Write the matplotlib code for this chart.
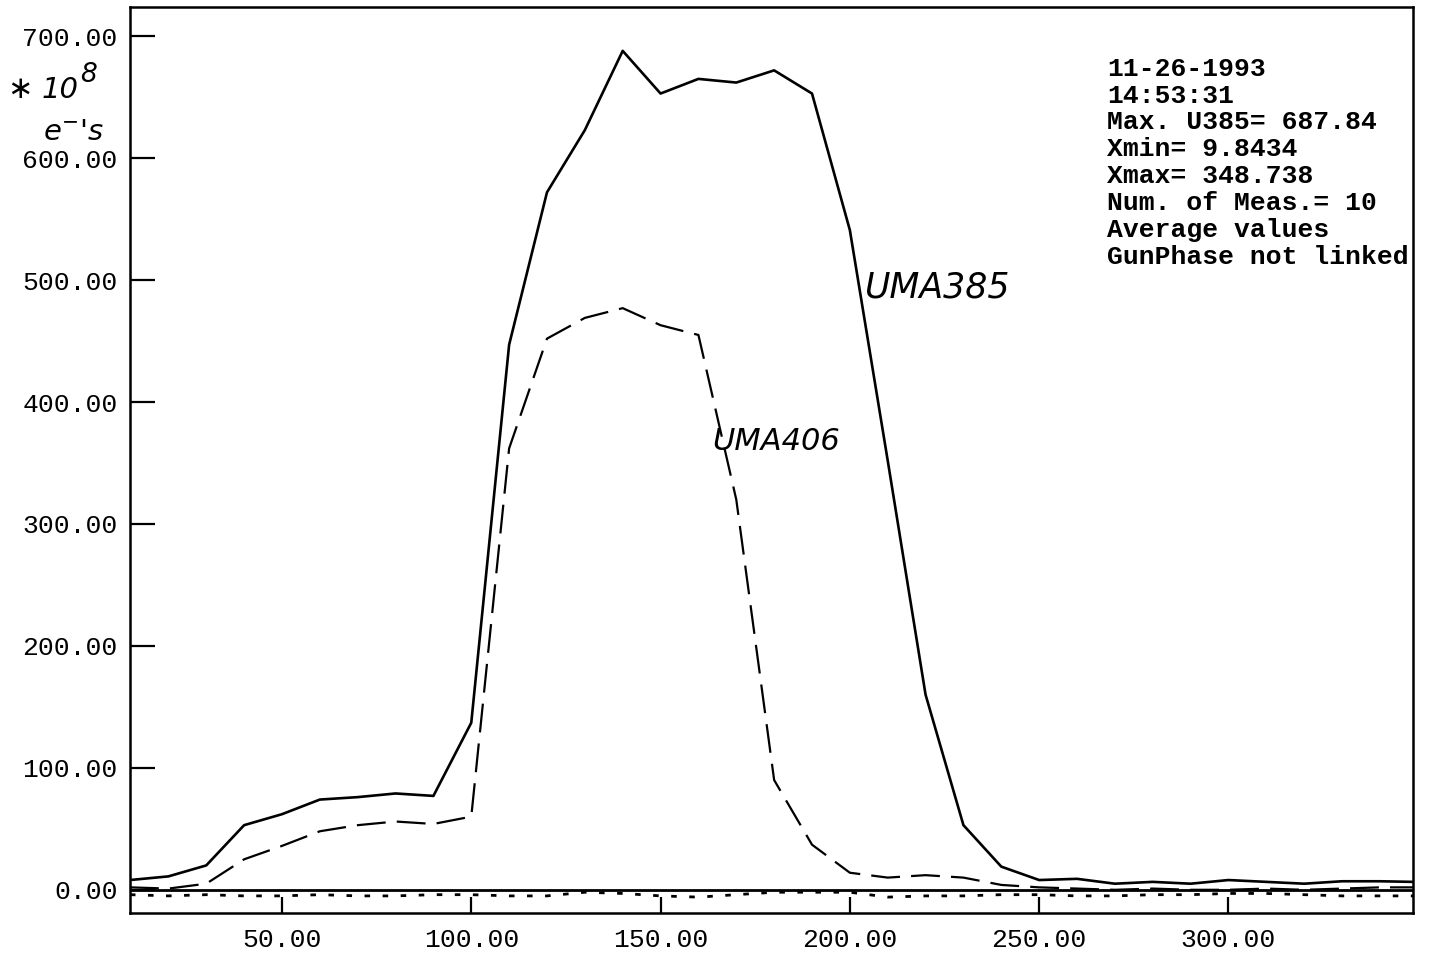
import numpy as np
import matplotlib
matplotlib.use('Agg')
import matplotlib.pyplot as plt

# measured positions (x) and signals (*10^8 e-'s)
pos = [9.84, 20, 30, 40, 50, 60, 70, 80, 90, 100, 110, 120, 130, 140, 150,
       160, 170, 180, 190, 200, 210, 220, 230, 240, 250, 260, 270, 280, 290,
       300, 310, 320, 330, 340, 348.74]
uma385 = [8, 11, 20, 53, 62, 74, 76, 79, 77, 137, 447, 572, 623, 688, 653,
          665, 662, 672, 653, 541, 352, 160, 53, 19, 8, 9, 5, 6.5, 5, 8, 6.5,
          5, 7, 7, 6.5]
uma406 = [2, 1, 5, 25, 36, 48, 53, 56, 54, 60, 362, 452, 469, 477, 463, 455,
          320, 90, 37, 14, 10, 12, 10, 4, 2, 1, 0, 1, 0, 0, 1, 0, 1, 2, 2]
third = [-4, -5, -4, -5, -5, -4, -5, -5, -4, -4, -5, -5, -2, -3, -5, -6, -4,
         -2, -2, -2, -6, -5, -5, -4, -4, -5, -5, -4, -4, -3, -3, -4, -5, -5, -5]

xticks = [50, 100, 150, 200, 250, 300]
yticks = [0, 100, 200, 300, 400, 500, 600, 700]

info = ["11-26-1993", "14:53:31", "Max. U385= 687.84", "Xmin= 9.8434",
        "Xmax= 348.738", "Num. of Meas.= 10", "Average values",
        "GunPhase not linked"]

mono = 'Liberation Mono'

fig = plt.figure(figsize=(14.31, 9.66), dpi=100)
ax = fig.add_axes([0.0908, 0.0549, 0.8966, 0.9379])

ax.plot(pos, uma385, color='black', lw=1.9)
ax.plot(pos, uma406, color='black', lw=1.6, linestyle=(0, (13, 5)))
ax.plot(pos, third, color='black', lw=2, linestyle=(0, (2, 4.5)))
ax.axhline(0, color='black', lw=2)

ax.set_xlim(9.84, 348.74)
ax.set_ylim(-19, 724)
ax.set_xticks(xticks)
ax.set_xticklabels(['%.2f' % v for v in xticks], family=mono, fontsize=19)
ax.set_yticks(yticks)
ax.set_yticklabels(['%.2f' % v for v in yticks], family=mono, fontsize=19)
ax.tick_params(axis='x', direction='in', length=11.5, width=1.6, pad=11)
ax.tick_params(axis='y', direction='in', length=18, width=1.6, pad=9)
for s in ax.spines.values():
    s.set_linewidth(1.8)

ax.text(0.7615, 0.945, "\n".join(info), transform=ax.transAxes, family=mono,
        fontsize=19, fontweight='bold', va='top', ha='left',
        linespacing=1.15, clip_on=True)

# handwritten annotations
hand = dict(family='DejaVu Sans', style='italic', fontweight='light', color='black')
ax.text(0.573, 0.679, "UMA385", transform=ax.transAxes, fontsize=25, **hand)
ax.text(0.4536, 0.511, "UMA406", transform=ax.transAxes, fontsize=22, **hand)
fig.text(0.005, 0.899, r"$\ast$", fontsize=22, **hand)
fig.text(0.029, 0.899, "10", fontsize=21, **hand)
fig.text(0.056, 0.915, "8", fontsize=19, **hand)
fig.text(0.030, 0.855, r"e$^{-}$'s", fontsize=21, **hand)

fig.savefig('out.png', dpi=100)
